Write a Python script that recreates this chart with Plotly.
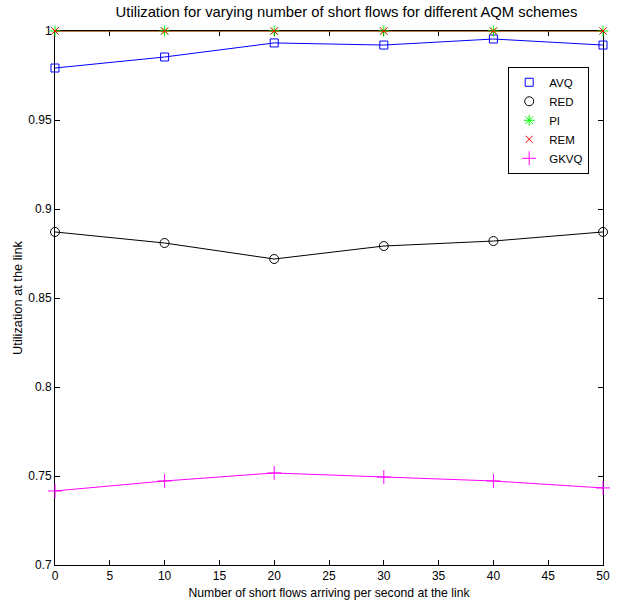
import plotly.graph_objects as go

flows = [0, 10, 20, 30, 40, 50]
avq = [0.9792, 0.9854, 0.9933, 0.9921, 0.9955, 0.9921]
red = [0.8871, 0.8809, 0.8719, 0.8792, 0.8820, 0.8871]
pi_ = [1.0, 1.0, 1.0, 1.0, 1.0, 1.0]
rem = [1.0, 1.0, 1.0, 1.0, 1.0, 1.0]
gkvq = [0.7416, 0.7472, 0.7517, 0.7494, 0.7472, 0.7433]

x_ticks = [0, 5, 10, 15, 20, 25, 30, 35, 40, 45, 50]
y_ticks = [0.7, 0.75, 0.8, 0.85, 0.9, 0.95, 1.0]
y_labels = ["0.7", "0.75", "0.8", "0.85", "0.9", "0.95", "1"]

FONT = "Liberation Sans, Arial, sans-serif"

series = [
    ("AVQ", avq, "blue", "square-open", 8),
    ("RED", red, "black", "circle-open", 9),
    ("PI", pi_, "#00ff00", "asterisk-open", 9),
    ("REM", rem, "red", "x-thin-open", 7),
    ("GKVQ", gkvq, "magenta", "cross-thin-open", 10),
]

fig = go.Figure()
for name, vals, color, sym, size in series:
    fig.add_trace(go.Scatter(
        x=flows, y=vals, mode="lines+markers", name=name, showlegend=False,
        line=dict(color=color, width=1),
        marker=dict(symbol=sym, size=size, color=color, line=dict(color=color, width=1)),
        cliponaxis=False,
    ))
for name, vals, color, sym, size in series:
    fig.add_trace(go.Scatter(
        x=[None], y=[None], mode="markers", name=name,
        marker=dict(symbol=sym, size=size, color=color, line=dict(color=color, width=1)),
    ))

fig.update_layout(
    width=619, height=606,
    paper_bgcolor="white", plot_bgcolor="white",
    margin=dict(l=55, r=16, t=31, b=41, autoexpand=False),
    font=dict(family=FONT, size=12, color="black"),
    title=dict(text="Utilization for varying number of short flows for different AQM schemes",
               x=0.532, xanchor="center", xref="paper", y=0.98, yref="container", yanchor="middle",
               font=dict(size=14.8), automargin=False),
    legend=dict(x=0.827, y=0.933, xanchor="left", yanchor="top",
                bordercolor="black", borderwidth=1, bgcolor="white",
                font=dict(size=11.5), itemwidth=30, tracegroupgap=0),
    showlegend=True,
)
fig.update_xaxes(
    range=[0, 50], tickvals=x_ticks, ticks="inside", ticklen=5, tickcolor="black",
    showline=True, linecolor="black", linewidth=1, mirror="ticks", showgrid=False, zeroline=False,
    title=dict(text="Number of short flows arriving per second at the link", standoff=6, font=dict(size=12.2)),
    tickfont=dict(size=12), automargin=True, layer="below traces",
)
fig.update_yaxes(
    range=[0.7, 1.0], tickvals=y_ticks, ticktext=y_labels, ticks="inside", ticklen=5, tickcolor="black",
    showline=True, linecolor="black", linewidth=1, mirror="ticks", showgrid=False, zeroline=False,
    title=dict(text="Utilization at the link", standoff=2, font=dict(size=12.8)),
    tickfont=dict(size=12), automargin=True, layer="below traces",
)

fig.write_html("out.html", config={"displayModeBar": False},
               post_script="document.body.style.margin='0';")
